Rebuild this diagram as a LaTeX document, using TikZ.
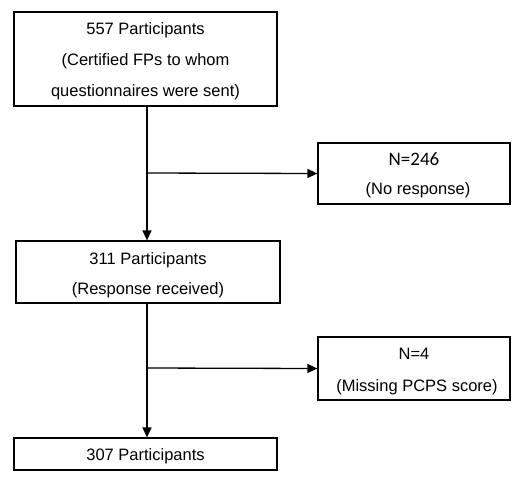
\documentclass[tikz,border=0pt]{standalone}
\usepackage{fontspec}
\setmainfont{Liberation Sans}
\newfontfamily\calfont{Carlito}
\usetikzlibrary{arrows.meta}
\newcommand\mystrut[1]{\rule{0pt}{#1pt}}
\begin{document}
\begin{tikzpicture}[x=1pt,y=-1pt,
  box/.style={draw,line width=1.25pt,rectangle,inner sep=0pt,align=center,font=\fontsize{16.5}{31}\selectfont},
  arrow/.style={line width=1.3pt,-{Triangle[length=10pt,width=9pt]}}]
\useasboundingbox (0,0) rectangle (530,483);
\fill[white] (0,0) rectangle (530,483);
\node[box,minimum width=263pt,minimum height=94pt] (b1) at (145.5,59) {\mystrut{15.5}557 Participants\\(Certified FPs to whom\\questionnaires were sent)};
\node[box,minimum width=192pt,minimum height=61pt,font=\fontsize{16.5}{29}\selectfont] (n1) at (414,173.5) {\mystrut{15.5}{\calfont\fontsize{19}{29}\selectfont N=246}\\\hspace*{8pt}(No response)};
\node[box,minimum width=264pt,minimum height=62pt,font=\fontsize{16.5}{30}\selectfont] (b2) at (148,272) {\mystrut{17.5}311 Participants\\(Response received)};
\node[box,minimum width=192pt,minimum height=63pt,font=\fontsize{16.5}{32}\selectfont] (n2) at (414,368.5) {\mystrut{16.5}N=4\\\hspace*{6pt}(Missing PCPS score)};
\node[box,minimum width=263pt,minimum height=32pt] (b3) at (145.5,454) {\mystrut{17}307 Participants};
\coordinate (c1) at (147,173);
\coordinate (c2) at (147,368);
\draw[arrow] (b1.south -| c1) -- (b2.north -| c1);
\draw[arrow] (c1) -- (n1.west);
\draw[arrow] (b2.south -| c2) -- (b3.north -| c2);
\draw[arrow] (c2) -- (n2.west);
\end{tikzpicture}
\end{document}
